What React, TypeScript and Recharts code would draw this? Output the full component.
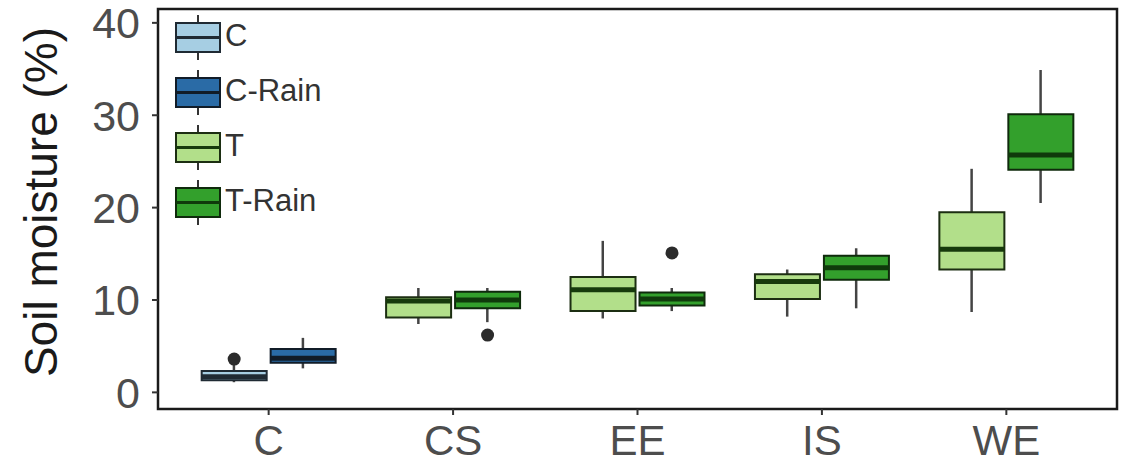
import React from 'react';
import {
  ComposedChart,
  Bar,
  Scatter,
  XAxis,
  YAxis,
  Cell,
  Legend,
  ReferenceArea,
} from 'recharts';

const categories = ['C', 'CS', 'EE', 'IS', 'WE'];
const groups = ['C', 'C-Rain', 'T', 'T-Rain'];
const groupFill = ['#a6cee3', '#2a6ba6', '#b2df8a', '#33a02c'];
const groupStroke = ['#1f2a33', '#111c28', '#1c2e12', '#0f2a0c'];
const groupMedian = ['#1f2a33', '#111c28', '#173a0c', '#0f3a0b'];

// one entry per box, left to right
const boxCategory = ['C', 'C', 'CS', 'CS', 'EE', 'EE', 'IS', 'IS', 'WE', 'WE'];
const boxGroup = ['C', 'C-Rain', 'T', 'T-Rain', 'T', 'T-Rain', 'T', 'T-Rain', 'T', 'T-Rain'];
const whiskerLow = [1.1, 2.6, 7.4, 7.6, 8.0, 8.8, 8.2, 9.1, 8.7, 20.5];
const q1 = [1.3, 3.2, 8.1, 9.1, 8.8, 9.4, 10.1, 12.2, 13.3, 24.1];
const median = [1.7, 3.7, 9.9, 10.0, 11.1, 10.1, 12.0, 13.5, 15.5, 25.7];
const q3 = [2.3, 4.7, 10.3, 10.9, 12.5, 10.8, 12.8, 14.8, 19.5, 30.1];
const whiskerHigh = [3.1, 5.9, 11.3, 11.3, 16.4, 11.3, 13.3, 15.6, 24.2, 34.9];

const outlierBox = [0, 3, 5];
const outlierValue = [3.6, 6.2, 15.1];

const yTicks = [0, 10, 20, 30, 40];
const xDomain: [number, number] = [0.4, 5.6];
const yDomain: [number, number] = [-1.8, 41.5];
const dodge = 0.187;

const rows = boxCategory.map((cat, i) => ({
  x: categories.indexOf(cat) + 1 + (i % 2 === 0 ? -dodge : dodge),
  group: boxGroup[i],
  box: [q1[i], q3[i]],
  whisker: [whiskerLow[i], whiskerHigh[i]],
  median: median[i],
}));

const outlierRows = outlierBox.map((b, i) => ({ x: rows[b].x, value: outlierValue[i] }));

const font = '"Liberation Sans", Arial, sans-serif';

const LegendBox = () => (
  <div style={{ fontFamily: font }}>
    {groups.map((g, i) => (
      <div key={g} style={{ display: 'flex', alignItems: 'center', height: 55 }}>
        <svg width={46} height={55}>
          <line x1={23} x2={23} y1={7} y2={52} stroke="#333" strokeWidth={2} />
          <rect x={1} y={15} width={44} height={29} fill={groupFill[i]} stroke={groupStroke[i]} strokeWidth={2} />
          <line x1={1} x2={45} y1={29.5} y2={29.5} stroke={groupMedian[i]} strokeWidth={3} />
        </svg>
        <span style={{ fontSize: 31, color: '#333', marginLeft: 4 }}>{g}</span>
      </div>
    ))}
  </div>
);

const YLabel = ({ viewBox }: any) => {
  const cx = 41;
  const cy = viewBox.y + viewBox.height / 2 - 7;
  return (
    <text
      x={cx}
      y={cy}
      transform={`rotate(-90 ${cx} ${cy})`}
      textAnchor="middle"
      dominantBaseline="central"
      fontSize={46}
      fontFamily={font}
      fill="#1a1a1a"
    >
      Soil moisture (%)
    </text>
  );
};

const MedianLine = (p: any) => {
  const gi = groups.indexOf(p.payload.group);
  return (
    <line x1={p.cx - 32.5} x2={p.cx + 32.5} y1={p.cy} y2={p.cy} stroke={groupMedian[gi]} strokeWidth={5} />
  );
};

const Outlier = (p: any) => <circle cx={p.cx} cy={p.cy} r={6.5} fill="#2b2b2b" />;

export default function App() {
  return (
    <div style={{ position: 'absolute', left: 0, top: 0, background: '#fff' }}>
      <ComposedChart width={1129} height={464} data={rows} margin={{ top: 9, right: 12, bottom: 0, left: 0 }}>
        <XAxis
          xAxisId="main"
          type="number"
          dataKey="x"
          domain={xDomain}
          ticks={[1, 2, 3, 4, 5]}
          interval={0}
          allowDataOverflow
          tickFormatter={(v: number) => categories[v - 1]}
          axisLine={false}
          tickLine={{ stroke: '#333', strokeWidth: 2 }}
          tickSize={6}
          tickMargin={10}
          height={55}
          tick={{ fontSize: 42, fill: '#4d4d4d', fontFamily: font }}
        />
        <XAxis xAxisId="whisker" type="number" dataKey="x" domain={xDomain} allowDataOverflow hide />
        <YAxis
          type="number"
          domain={yDomain}
          ticks={yTicks}
          interval={0}
          allowDataOverflow
          axisLine={false}
          tickLine={{ stroke: '#333', strokeWidth: 2 }}
          tickSize={6}
          tickMargin={12}
          width={158}
          tick={{ fontSize: 43, fill: '#4d4d4d', fontFamily: font }}
          label={<YLabel />}
        />
        <Legend
          layout="horizontal"
          verticalAlign="middle"
          align="center"
          content={() => <LegendBox />}
          wrapperStyle={{ left: 175, top: 8, width: 'auto', height: 'auto' }}
        />
        <Bar xAxisId="whisker" dataKey="whisker" barSize={2.5} fill="#444" isAnimationActive={false} />
        <Bar xAxisId="main" dataKey="box" barSize={65} isAnimationActive={false} strokeWidth={2}>
          {rows.map((r, i) => {
            const gi = groups.indexOf(r.group);
            return <Cell key={i} fill={groupFill[gi]} stroke={groupStroke[gi]} />;
          })}
        </Bar>
        <Scatter xAxisId="main" dataKey="median" shape={MedianLine} isAnimationActive={false} />
        <Scatter xAxisId="main" data={outlierRows} dataKey="value" shape={Outlier} isAnimationActive={false} />
        <ReferenceArea
          xAxisId="main"
          x1={xDomain[0]}
          x2={xDomain[1]}
          y1={yDomain[0]}
          y2={yDomain[1]}
          fill="none"
          stroke="#1a1a1a"
          strokeWidth={2.5}
          ifOverflow="visible"
        />
      </ComposedChart>
    </div>
  );
}
